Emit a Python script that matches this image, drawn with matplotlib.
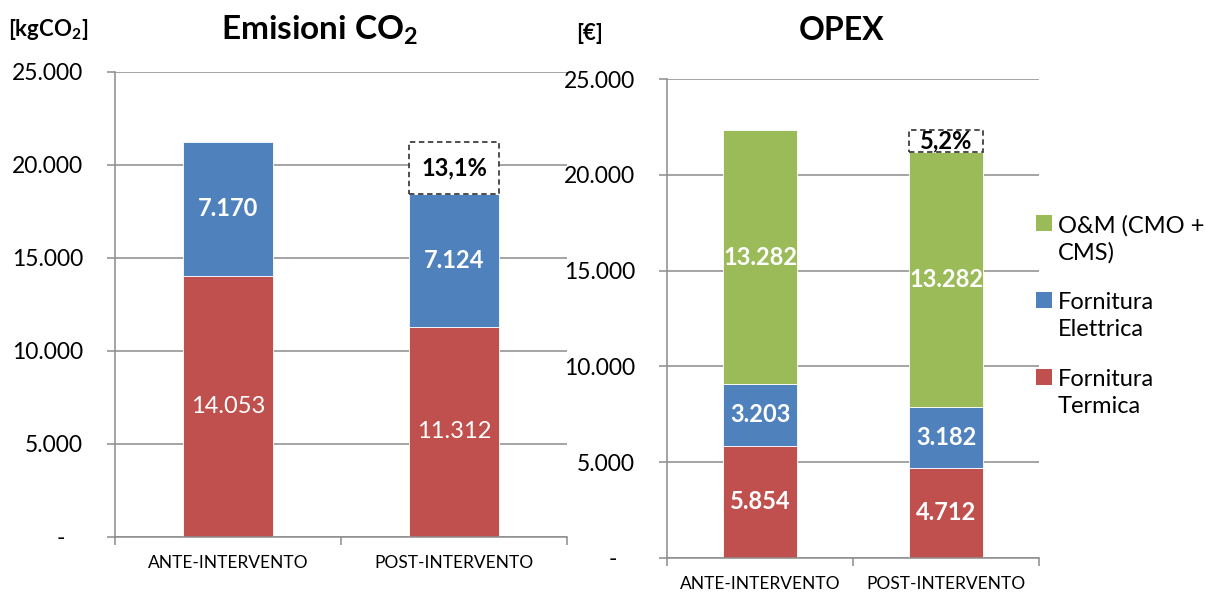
import matplotlib
matplotlib.use("Agg")
import matplotlib.pyplot as plt
from matplotlib.patches import Rectangle
from matplotlib.ticker import FuncFormatter, FixedLocator

plt.rcParams['font.family'] = ['Lato', 'DejaVu Sans']
# mathtext only used for the bold CO2 subscripts
plt.rcParams['mathtext.fontset'] = 'custom'
plt.rcParams['mathtext.rm'] = 'Lato:bold'
plt.rcParams['mathtext.bf'] = 'Lato:bold'
plt.rcParams['mathtext.default'] = 'rm'

categories = ["ANTE-INTERVENTO", "POST-INTERVENTO"]

# emissioni [kgCO2]
co2_termica = [14053, 11312]
co2_elettrica = [7170, 7124]

# OPEX [€]
opex_termica = [5854, 4712]
opex_elettrica = [3203, 3182]
opex_om = [13282, 13282]

legend_labels = ["O&M (CMO +\nCMS)", "Fornitura\nElettrica", "Fornitura\nTermica"]

RED = "#C0504D"
BLUE = "#4F81BD"
GREEN = "#9BBB59"
GRID = "#8C8C8C"


def fmt_num(v):
    return f"{int(v):,}".replace(",", ".")


def yfmt(v, pos):
    if v == 0:
        return "-   "
    return fmt_num(v)


def setup_axes(ax):
    ax.set_xlim(-0.5, 1.5)
    ax.set_ylim(0, 25000)
    ax.yaxis.set_major_locator(FixedLocator([0, 5000, 10000, 15000, 20000, 25000]))
    ax.yaxis.set_major_formatter(FuncFormatter(yfmt))
    ax.yaxis.grid(True, color=GRID, linewidth=1.1)
    ax.set_axisbelow(True)
    for s in ["top", "right"]:
        ax.spines[s].set_visible(False)
    for s in ["left", "bottom"]:
        ax.spines[s].set_color(GRID)
        ax.spines[s].set_linewidth(1.1)
    ax.tick_params(axis="y", length=6, width=1.1, color=GRID, pad=17,
                   labelsize=16.5)
    ax.set_xticks([0, 1])
    ax.set_xticklabels(categories)
    ax.set_xticks([-0.5, 0.5, 1.5], minor=True)
    ax.tick_params(axis="x", which="major", length=0, pad=13, labelsize=12.5)
    ax.tick_params(axis="x", which="minor", length=6, width=1.1, color=GRID)


def stack(ax, layers, colors, bold, width=0.4):
    x = range(len(categories))
    bottom = [0] * len(categories)
    for vals, col, b in zip(layers, colors, bold):
        ax.bar(x, vals, width, bottom=bottom, color=col, edgecolor="white",
               linewidth=0.6)
        for i, v in enumerate(vals):
            ax.text(i, bottom[i] + v / 2, fmt_num(v), ha="center", va="center",
                    color="white", fontsize=17,
                    fontweight="bold" if b else "normal")
        bottom = [bt + v for bt, v in zip(bottom, vals)]
    return bottom


def reduction_box(ax, totals, width=0.4):
    pct = (1 - totals[1] / totals[0]) * 100
    ax.add_patch(Rectangle((1 - width / 2, totals[1]), width,
                           totals[0] - totals[1], facecolor="white",
                           edgecolor="#404040", linestyle=(0, (3, 2)),
                           linewidth=1.3, zorder=3))
    ax.text(1, (totals[0] + totals[1]) / 2, f"{pct:.1f}%".replace(".", ","),
            ha="center", va="center", fontsize=17, fontweight="bold",
            color="black", zorder=4)


fig = plt.figure(figsize=(12.06, 5.94), dpi=100)

ax1 = fig.add_axes([0.0954, 0.0960, 0.3748, 0.7828])
setup_axes(ax1)
tot1 = stack(ax1, [co2_termica, co2_elettrica], [RED, BLUE], [False, True])
reduction_box(ax1, tot1)

ax2 = fig.add_axes([0.5531, 0.0610, 0.3085, 0.8060])
setup_axes(ax2)
tot2 = stack(ax2, [opex_termica, opex_elettrica, opex_om], [RED, BLUE, GREEN],
             [True, True, True])
reduction_box(ax2, tot2)

# titoli e unità di misura
fig.text(320 / 1206, 1 - 30 / 594, r"Emisioni CO$_2$", ha="center",
         va="center", fontsize=24, fontweight="bold")
fig.text(842 / 1206, 1 - 30 / 594, "OPEX", ha="center", va="center",
         fontsize=23, fontweight="bold")
fig.text(8 / 1206, 1 - 30 / 594, r"[kgCO$_2$]", ha="left",
         va="center", fontsize=16, fontweight="bold")
fig.text(576 / 1206, 1 - 33 / 594, "[€]", ha="left", va="center",
         fontsize=16, fontweight="bold")

# legenda
leg_y = [223, 300, 377]
for lab, col, y in zip(legend_labels, [GREEN, BLUE, RED], leg_y):
    fig.patches.append(Rectangle((1036 / 1206, 1 - (y + 8) / 594),
                                 16 / 1206, 16 / 594, facecolor=col,
                                 transform=fig.transFigure, figure=fig))
    fig.text(1058 / 1206, 1 - (y + 16) / 594, lab, ha="left", va="center",
             fontsize=17, linespacing=1.3)

fig.savefig("out.png", dpi=100)
